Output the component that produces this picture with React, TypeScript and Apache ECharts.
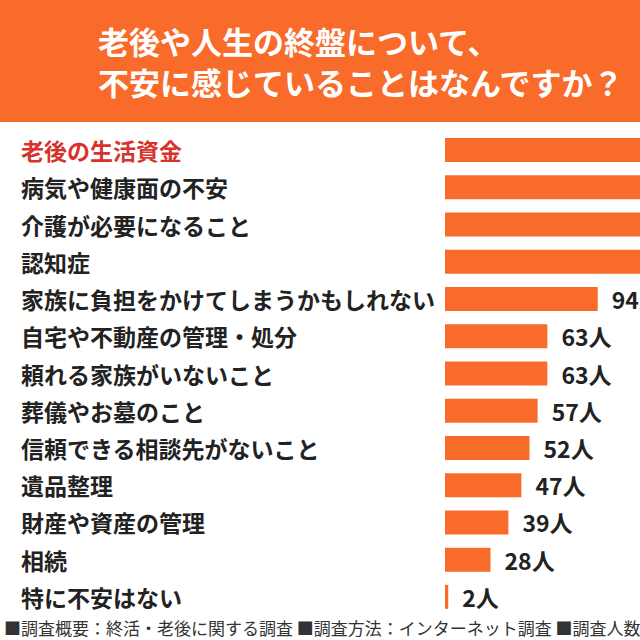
import React, { useEffect, useRef } from 'react';
import * as echarts from 'echarts';

const categories = [
  '老後の生活資金',
  '病気や健康面の不安',
  '介護が必要になること',
  '認知症',
  '家族に負担をかけてしまうかもしれない',
  '自宅や不動産の管理・処分',
  '頼れる家族がいないこと',
  '葬儀やお墓のこと',
  '信頼できる相談先がないこと',
  '遺品整理',
  '財産や資産の管理',
  '相続',
  '特に不安はない',
];
// top four run past the right edge of the picture, so their values are guesses
const counts = [195, 170, 140, 128, 94, 63, 63, 57, 52, 47, 39, 28, 2];

const titleLines = ['老後や人生の終盤について、', '不安に感じていることはなんですか？'];
const footnote = '■調査概要：終活・老後に関する調査 ■調査方法：インターネット調査 ■調査人数';

const ORANGE = '#F96B2B';
const FONT = '"Noto Sans CJK JP", "Noto Sans", sans-serif';

const App: React.FC = () => {
  const chartRef = useRef<HTMLDivElement | null>(null);

  useEffect(() => {
    const chart = echarts.init(chartRef.current!, undefined, { renderer: 'svg' });

    const labelStyle = {
      align: 'left',
      color: '#222222',
      fontSize: 23,
      fontWeight: 'bold',
      fontFamily: FONT,
    };

    const option = {
      animation: false,
      backgroundColor: '#ffffff',
      textStyle: { fontFamily: FONT },
      title: {
        text: titleLines.join('\n'),
        left: 93,
        top: 15,
        textStyle: {
          color: '#ffffff',
          fontSize: 31,
          fontWeight: 'bold',
          lineHeight: 41,
          fontFamily: FONT,
        },
        z: 10,
      },
      graphic: [
        {
          type: 'rect',
          shape: { x: 0, y: 0, width: 640, height: 122 },
          style: { fill: ORANGE },
          z: -1,
        },
        {
          type: 'text',
          x: 4,
          y: 627,
          style: {
            text: footnote,
            fill: '#333333',
            font: `17px ${FONT}`,
            verticalAlign: 'middle',
          },
        },
      ],
      grid: {
        left: 445,
        right: 0,
        top: 131.5,
        bottom: 24.5,
        containLabel: false,
        outerBoundsMode: 'none',
      },
      xAxis: {
        type: 'value',
        min: 0,
        max: 120,
        show: false,
        splitLine: { show: false },
      },
      yAxis: {
        type: 'category',
        inverse: true,
        data: categories.map((c, i) =>
          i === 0 ? { value: c, textStyle: { ...labelStyle, color: '#D8322C' } } : c
        ),
        axisLine: { show: false },
        axisTick: { show: false },
        axisLabel: {
          ...labelStyle,
          margin: 424,
        },
      },
      series: [
        {
          type: 'bar',
          data: counts,
          barWidth: 24,
          itemStyle: { color: ORANGE },
          label: {
            show: true,
            position: 'right',
            distance: 14,
            formatter: '{c}人',
            color: '#222222',
            fontSize: 23,
            fontWeight: 'bold',
            fontFamily: FONT,
          },
        },
      ],
    };

    chart.setOption(option);

    return () => {
      chart.dispose();
    };
  }, []);

  return (
    <div
      ref={chartRef}
      style={{ position: 'fixed', left: 0, top: 0, width: '640px', height: '640px' }}
    />
  );
};

export default App;
